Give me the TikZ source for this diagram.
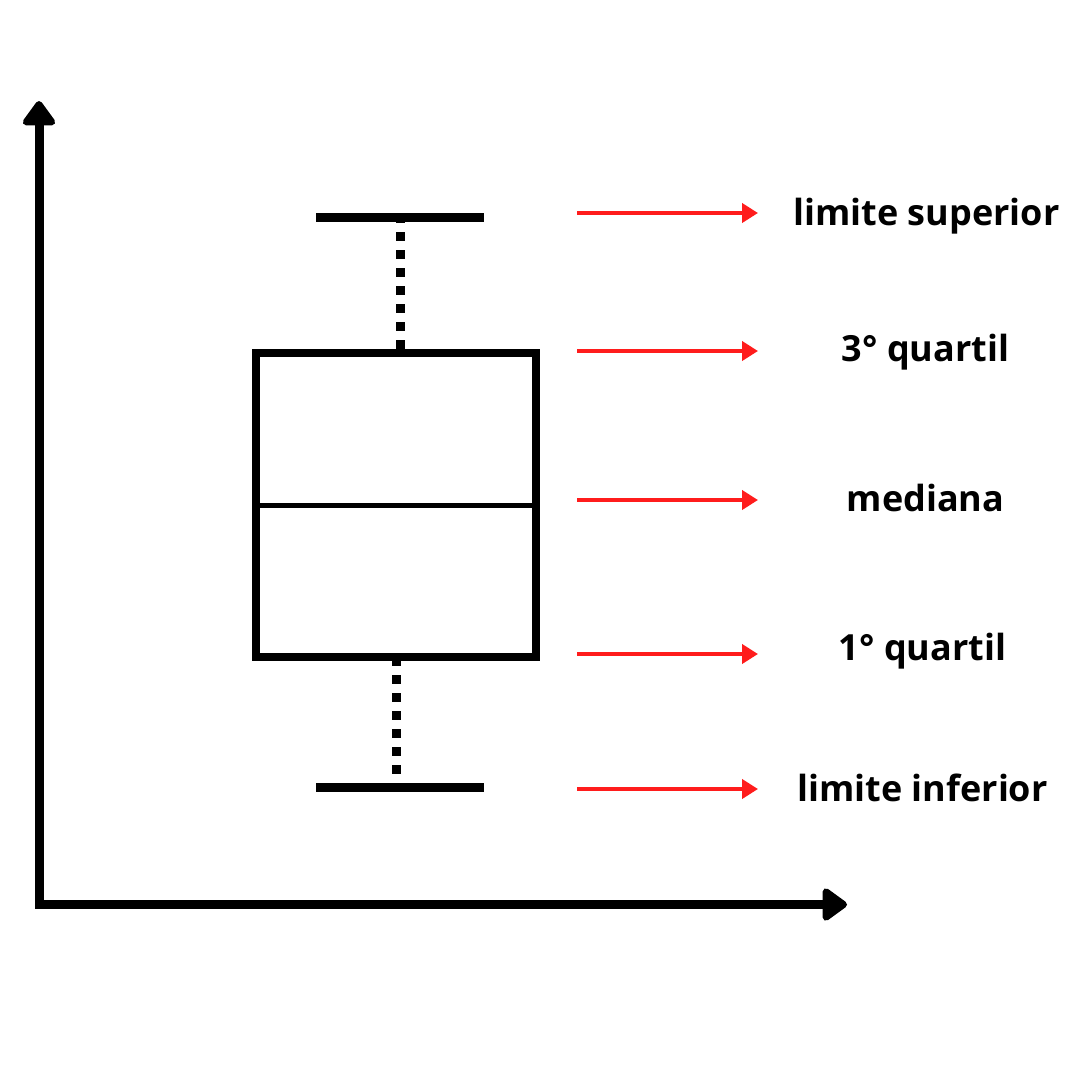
\documentclass[tikz,border=0pt]{standalone}
\usepackage{fontspec}
\newfontfamily\labfont{Open Sans}
\usetikzlibrary{arrows.meta}
\definecolor{arrowred}{RGB}{255,28,28}
\tikzset{
  axisline/.style={line width=9pt, line join=miter, {Triangle[width=37pt,length=27pt,round]}-{Triangle[width=37pt,length=27pt,round]}},
  capline/.style={line width=9pt},
  boxline/.style={line width=8pt},
  medline/.style={line width=5pt},
  whisker/.style={line width=9pt, dash pattern=on 9pt off 9pt},
  pointer/.style={arrowred, line width=4.5pt, -{Triangle[width=19pt,length=16pt]}},
  label/.style={anchor=base, inner sep=0pt, font=\labfont\bfseries\fontsize{36}{43}\selectfont}
}
\begin{document}
\begin{tikzpicture}[x=1pt,y=-1pt]
\useasboundingbox (0,0) rectangle (1080,1080);
% axes
\coordinate (ytip) at (39,101);
\coordinate (origin) at (39,904.5);
\coordinate (xtip) at (847,904.5);
\draw[axisline] (ytip) -- (origin) -- (xtip);
% whiskers
\coordinate (tw1) at (400.5,214);
\coordinate (tw2) at (400.5,349);
\draw[whisker] (tw1) -- (tw2);
\coordinate (bw1) at (396.5,657);
\coordinate (bw2) at (396.5,792);
\draw[whisker] (bw1) -- (bw2);
% caps
\coordinate (tcL) at (316,217.5);
\coordinate (tcR) at (484,217.5);
\draw[capline] (tcL) -- (tcR);
\coordinate (bcL) at (316,787.5);
\coordinate (bcR) at (484,787.5);
\draw[capline] (bcL) -- (bcR);
% box
\coordinate (boxTL) at (256,353);
\coordinate (boxBR) at (536,657);
\draw[boxline] (boxTL) rectangle (boxBR);
\coordinate (medL) at (256,505);
\coordinate (medR) at (536,505);
\draw[medline] (medL) -- (medR);
% labels
\node[label] (lsup) at (926.5,225) {limite superior};
\node[label] (q3) at (925.5,361.5) {3° quartil};
\node[label] (med) at (925.5,511) {mediana};
\node[label] (q1) at (922.5,660) {1° quartil};
\node[label] (linf) at (922.5,801) {limite inferior};
% pointers
\foreach \n/\y in {a/213, b/351, c/500, d/654, e/789}{
  \coordinate (s\n) at (577,\y);
  \coordinate (t\n) at (758,\y);
  \draw[pointer] (s\n) -- (t\n);
}
\end{tikzpicture}
\end{document}
